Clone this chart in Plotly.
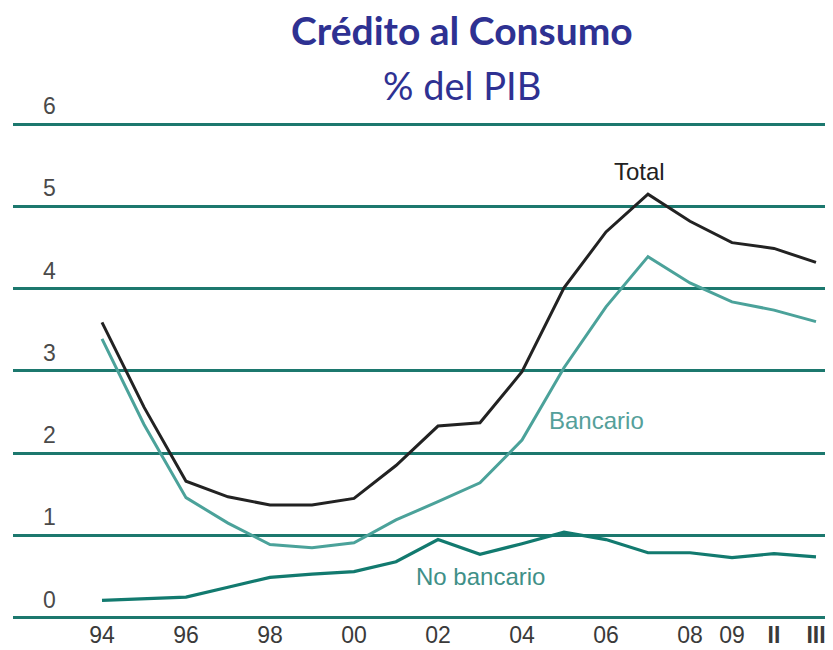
import plotly.graph_objects as go

categories = ["94", "95", "96", "97", "98", "99", "00", "01", "02", "03",
              "04", "05", "06", "07", "08", "09", "II", "III"]
total = [3.59, 2.56, 1.66, 1.47, 1.37, 1.37, 1.45, 1.85, 2.33, 2.37,
         2.99, 4.01, 4.69, 5.15, 4.82, 4.56, 4.49, 4.32]
bancario = [3.39, 2.35, 1.46, 1.15, 0.89, 0.85, 0.91, 1.19, 1.41, 1.64,
            2.16, 3.04, 3.78, 4.39, 4.07, 3.84, 3.74, 3.60]
no_bancario = [0.21, 0.23, 0.25, 0.37, 0.49, 0.53, 0.56, 0.68, 0.95, 0.77,
               0.90, 1.04, 0.95, 0.79, 0.79, 0.73, 0.78, 0.74]
tick_vals = ["94", "96", "98", "00", "02", "04", "06", "08", "09", "II", "III"]
tick_text = ["94", "96", "98", "00", "02", "04", "06", "08", "09",
             "<b>II</b>", "<b>III</b>"]
y_ticks = [0, 1, 2, 3, 4, 5, 6]

C_TOTAL = "#222222"
C_BANC = "#4BA29A"
C_NOBANC = "#127A6F"
C_GRID = "#1C786E"
C_TITLE = "#2E3192"
FONT = "Liberation Sans, Arial, sans-serif"

fig = go.Figure()
fig.add_trace(go.Scatter(x=categories, y=no_bancario, mode="lines",
                         line=dict(color=C_NOBANC, width=3.2), name="No bancario"))
fig.add_trace(go.Scatter(x=categories, y=bancario, mode="lines",
                         line=dict(color=C_BANC, width=3), name="Bancario"))
fig.add_trace(go.Scatter(x=categories, y=total, mode="lines",
                         line=dict(color=C_TOTAL, width=3), name="Total"))

annotations = []
for v in y_ticks:
    annotations.append(dict(x=0.044, xref="paper", y=v, yref="y", text=str(v),
                            showarrow=False, xanchor="center", yanchor="bottom",
                            yshift=3, font=dict(family=FONT, size=23, color="#4a4a4a")))

annotations += [
    dict(x=0.5476, xref="paper", y=1.170, yref="paper", text="<b>Crédito al Consumo</b>",
         showarrow=False, xanchor="center", yanchor="middle",
         font=dict(family="Lato, Open Sans, sans-serif", size=39, color=C_TITLE)),
    dict(x=0.5476, xref="paper", y=1.061, yref="paper", text="% del PIB",
         showarrow=False, xanchor="center", yanchor="middle",
         font=dict(family="Lato, Open Sans, sans-serif", size=38, color=C_TITLE)),
    dict(x=0.7646, xref="paper", y=5.42, yref="y", text="Total", showarrow=False,
         xanchor="center", yanchor="middle",
         font=dict(family=FONT, size=24, color="#222222")),
    dict(x=0.712, xref="paper", y=2.40, yref="y", text="Bancario", showarrow=False,
         xanchor="center", yanchor="middle",
         font=dict(family=FONT, size=24, color="#55a09a")),
    dict(x=0.5707, xref="paper", y=0.507, yref="y", text="No bancario", showarrow=False,
         xanchor="center", yanchor="middle",
         font=dict(family=FONT, size=24, color="#3f9088")),
]

fig.update_layout(
    width=825, height=642,
    margin=dict(l=5, r=0, t=108, b=29, autoexpand=False),
    paper_bgcolor="white", plot_bgcolor="white",
    showlegend=False,
    annotations=annotations,
    xaxis=dict(type="category", categoryorder="array", categoryarray=categories,
               range=[-2.119, 17.405], tickmode="array", tickvals=tick_vals,
               ticktext=tick_text, showgrid=False, zeroline=False, showline=False,
               automargin=False, ticks="", ticklabelstandoff=-2,
               tickfont=dict(family=FONT, size=23, color="#3a3a3a")),
    yaxis=dict(range=[-0.04, 6.1], tickmode="array", tickvals=y_ticks,
               showticklabels=False, showgrid=True, gridcolor=C_GRID, gridwidth=3,
               zeroline=False, showline=False, automargin=False),
)

fig.write_html("out.html")
